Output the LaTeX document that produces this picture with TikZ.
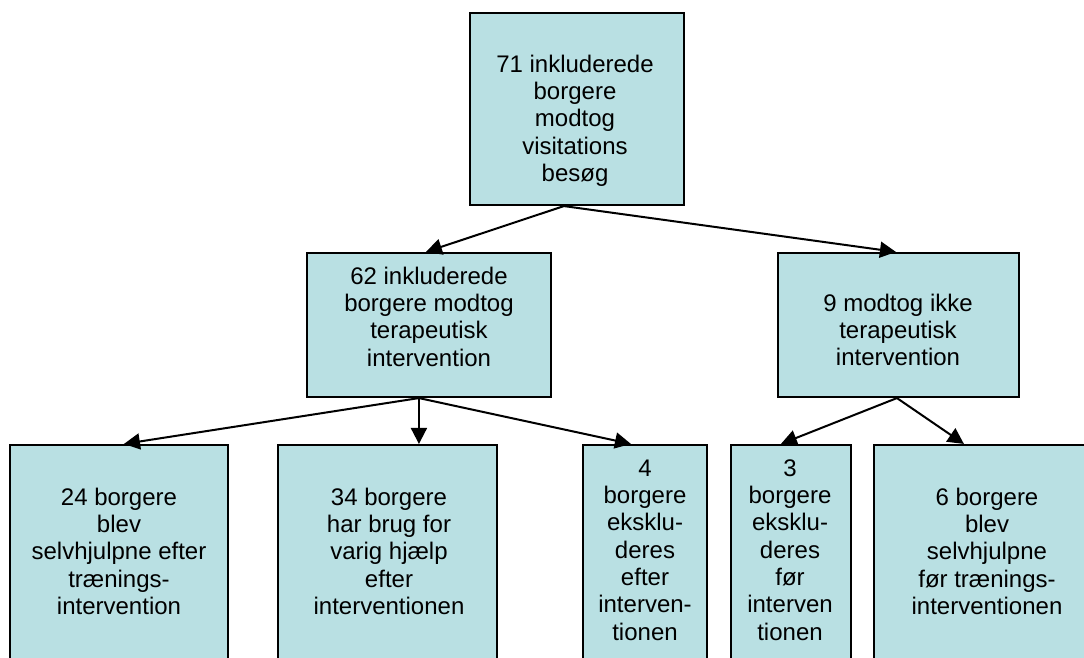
\documentclass[tikz,border=0pt]{standalone}
\usepackage{fontspec}
\setmainfont{Liberation Sans}
\usetikzlibrary{arrows.meta,fit,calc}
\definecolor{boxfill}{RGB}{185,224,227}
\tikzset{
  box/.style={draw=black, fill=boxfill, line width=1.6pt, inner sep=0pt, rectangle},
  txt/.style={inner sep=0pt, anchor=base, font=\fontsize{18}{20.5}\selectfont},
  link/.style={line width=1.5pt, -{Triangle[length=12pt,width=12pt]}}
}
\newcommand{\lines}[1]{\begin{tabular}[t]{@{}c@{}}#1\end{tabular}}
\begin{document}
\begin{tikzpicture}[x=0.75pt,y=-0.75pt]
\useasboundingbox (0,0) rectangle (1084,657);
\clip (0,0) rectangle (1084,657);

% boxes
\node[box, fit={(470,13) (684,205)}] (top) {};
\node[box, fit={(307,253) (551,397)}] (n62) {};
\node[box, fit={(778,253) (1019,397)}] (n9) {};
\node[box, fit={(10,445) (228,690)}] (b24) {};
\node[box, fit={(278,445) (497,690)}] (b34) {};
\node[box, fit={(583,445) (707,690)}] (b4) {};
\node[box, fit={(731,445) (851,690)}] (b3) {};
\node[box, fit={(874,445) (1110,690)}] (b6) {};

% texts
\node[txt] (ttop) at (575,72) {\lines{71 inkluderede\\borgere\\modtog\\visitations\\besøg}};
\node[txt] (t62) at (429,284) {\lines{62 inkluderede\\borgere modtog\\terapeutisk\\intervention}};
\node[txt] (t9) at (898,311) {\lines{9 modtog ikke\\terapeutisk\\intervention}};
\node[txt] (t24) at (119,505) {\lines{24 borgere\\blev\\selvhjulpne efter\\trænings-\\intervention}};
\node[txt] (t34) at (389,505) {\lines{34 borgere\\har brug for\\varig hjælp\\efter\\interventionen}};
\node[txt] (t4) at (645,476) {\lines{4\\borgere\\eksklu-\\deres\\efter\\interven-\\tionen}};
\node[txt] (t3) at (790,476) {\lines{3\\borgere\\eksklu-\\deres\\før\\interven\\tionen}};
\node[txt] (t6) at (987,505) {\lines{6 borgere\\blev\\selvhjulpne\\før trænings-\\interventionen}};

% connectors
\draw[link] ($(top.south west)+(95,0)$) -- ($(n62.north west)+(120,0)$);
\draw[link] ($(top.south west)+(95,0)$) -- ($(n9.north west)+(119,0)$);
\draw[link] ($(n62.south west)+(113,0)$) -- ($(b24.north west)+(115,0)$);
\draw[link] ($(n62.south west)+(113,0)$) -- ($(b34.north west)+(142,0)$);
\draw[link] ($(n62.south west)+(113,0)$) -- ($(b4.north west)+(49,0)$);
\draw[link] ($(n9.south west)+(120,0)$) -- ($(b3.north west)+(51,0)$);
\draw[link] ($(n9.south west)+(120,0)$) -- ($(b6.north west)+(91,0)$);
\end{tikzpicture}
\end{document}
